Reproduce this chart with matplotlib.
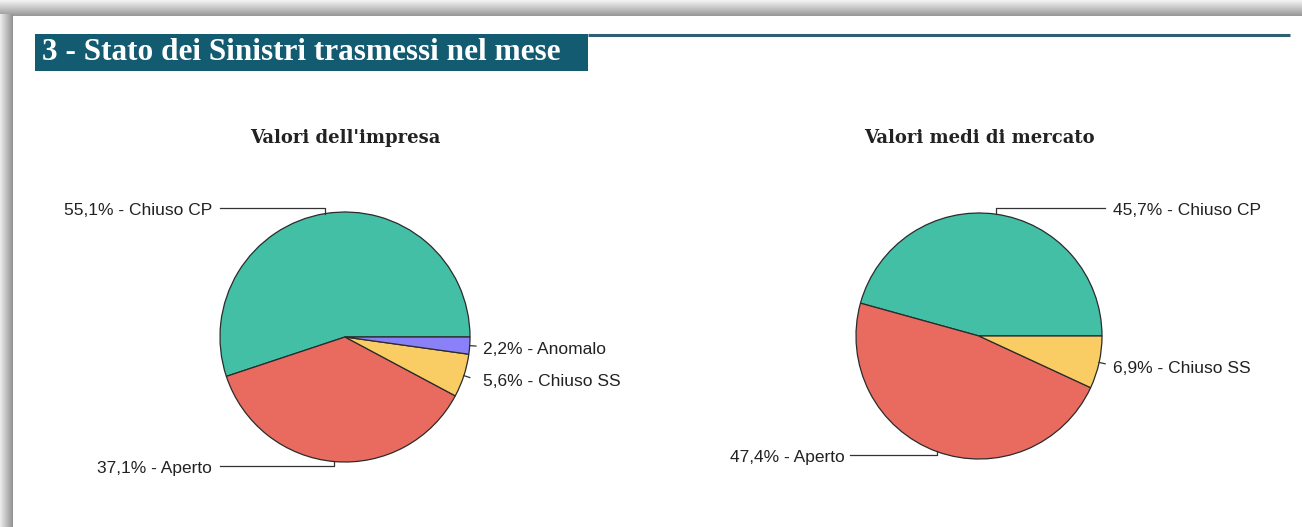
import numpy as np
import matplotlib
matplotlib.use("Agg")
import matplotlib.pyplot as plt
from matplotlib.patches import Rectangle

# ---- data ----
categories_left = ["Chiuso CP", "Aperto", "Chiuso SS", "Anomalo"]
values_left = [55.1, 37.1, 5.6, 2.2]
categories_right = ["Chiuso CP", "Aperto", "Chiuso SS"]
values_right = [45.7, 47.4, 6.9]
title_main = "3 - Stato dei Sinistri trasmessi nel mese"
title_left = "Valori dell'impresa"
title_right = "Valori medi di mercato"

colors = {"Chiuso CP": "#43bfa5", "Aperto": "#e96b5f",
          "Chiuso SS": "#f9cd63", "Anomalo": "#8a80f8"}

W, H = 1302, 527
fig = plt.figure(figsize=(W / 100, H / 100), dpi=100)
fig.patch.set_facecolor("white")

# background / frame axes in pixel coordinates
bg = fig.add_axes([0, 0, 1, 1])
bg.set_xlim(0, W)
bg.set_ylim(H, 0)
bg.axis("off")
# top shadow band
top = np.linspace(0.95, 0.60, 16)[:, None] * np.ones((1, 2))
bg.imshow(np.dstack([top] * 3), extent=(0, W, 16, 0), aspect="auto", zorder=1)
# left shadow band
left = np.linspace(0.92, 0.58, 13)[None, :] * np.ones((2, 1))
bg.imshow(np.dstack([left] * 3), extent=(0, 13, H, 14), aspect="auto", zorder=1)
bg.set_xlim(0, W)
bg.set_ylim(H, 0)

# header box + rule
bg.add_patch(Rectangle((35, 34), 553, 37, facecolor="#135b70", edgecolor="none", zorder=2))
bg.plot([588, 1290], [34.5, 34.5], color="#2f5f70", lw=2.2, zorder=2, solid_capstyle="butt")
bg.text(42, 52, title_main, color="white", fontsize=22.5, fontweight="bold",
        family="Liberation Serif", va="center", ha="left", zorder=3)


def pie_panel(cx, cy, r, cats, vals, title, label_spec):
    ax = fig.add_axes([(cx - r) / W, (H - cy - r) / H, 2 * r / W, 2 * r / H])
    wedges, _ = ax.pie(vals, colors=[colors[c] for c in cats], startangle=0,
                       counterclock=True, radius=1,
                       wedgeprops=dict(edgecolor="#2b2b2b", linewidth=0.9))
    ax.set_xlim(-1, 1)
    ax.set_ylim(-1, 1)
    ax.set_aspect("equal")
    ax.axis("off")
    for w, c, v in zip(wedges, cats, vals):
        ang = np.deg2rad((w.theta1 + w.theta2) / 2)
        mx, my = np.cos(ang), np.sin(ang)
        kind, ly, lx_end, lx_text, ha = label_spec[c]
        txt = f"{v:.1f}".replace(".", ",") + f"% - {c}"
        if kind == "elbow":
            ax.plot([mx, mx, lx_end], [my, ly, ly], color="#333333", lw=0.9,
                    clip_on=False)
        else:
            ax.plot([mx, mx * 1.05], [my, my * 1.05], color="#333333", lw=0.9,
                    clip_on=False)
        ax.text(lx_text, ly - 0.022, txt, ha=ha, va="center", fontsize=12.5,
                family="Liberation Sans", color="#222222", clip_on=False)
    fig.text(cx / W, 1 - 138 / H, title, ha="center", va="center",
             fontsize=13, fontweight="bold", family="DejaVu Serif", color="#222222")


pie_panel(345, 337, 125, categories_left, values_left, title_left, {
    "Chiuso CP": ("elbow", 1.032, -1.0, -1.064, "right"),
    "Aperto": ("elbow", -1.032, -1.0, -1.064, "right"),
    "Anomalo": ("tick", -0.075, 1.05, 1.104, "left"),
    "Chiuso SS": ("tick", -0.33, 1.05, 1.104, "left"),
})

pie_panel(979, 336, 123, categories_right, values_right, title_right, {
    "Chiuso CP": ("elbow", 1.04, 1.024, 1.09, "left"),
    "Aperto": ("elbow", -0.967, -1.049, -1.09, "right"),
    "Chiuso SS": ("tick", -0.24, 1.05, 1.09, "left"),
})

fig.savefig("out.png", dpi=100, facecolor="white")
